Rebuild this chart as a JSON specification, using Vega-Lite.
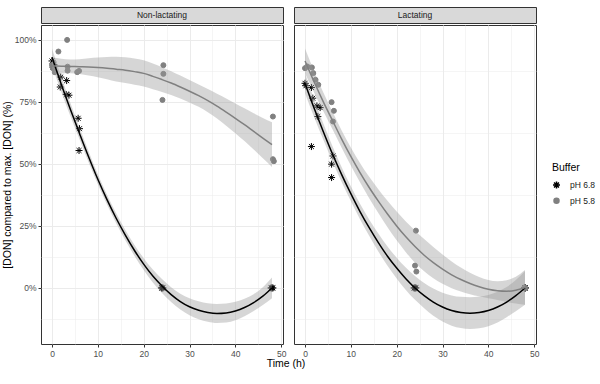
{
  "$schema": "https://vega.github.io/schema/vega-lite/v6.json",
  "padding": {"left": 2, "top": 6, "right": 5, "bottom": 5},
  "background": "white",
  "config": {
    "font": "Liberation Sans",
    "view": {"stroke": "#333333", "strokeWidth": 1},
    "axis": {"gridColor": "#EBEBEB", "tickColor": "#333333", "tickSize": 3, "domain": false, "labelColor": "#4D4D4D", "labelFontSize": 8.5, "labelPadding": 2, "titleFontSize": 10.5, "titleFontWeight": "normal", "titleColor": "#000000", "labelFlush": false, "labelOverlap": false}
  },
  "datasets": {
    "pts": [
      {"panel": "Non-lactating", "buffer": "pH 6.8", "time": 0, "don": 91.5},
      {"panel": "Non-lactating", "buffer": "pH 6.8", "time": 0.4, "don": 90},
      {"panel": "Non-lactating", "buffer": "pH 6.8", "time": 0.2, "don": 89},
      {"panel": "Non-lactating", "buffer": "pH 6.8", "time": 1.9, "don": 85},
      {"panel": "Non-lactating", "buffer": "pH 6.8", "time": 1.8, "don": 81},
      {"panel": "Non-lactating", "buffer": "pH 6.8", "time": 3.2, "don": 83.6},
      {"panel": "Non-lactating", "buffer": "pH 6.8", "time": 3.1, "don": 78},
      {"panel": "Non-lactating", "buffer": "pH 6.8", "time": 3.7, "don": 77.7},
      {"panel": "Non-lactating", "buffer": "pH 6.8", "time": 5.7, "don": 68.4},
      {"panel": "Non-lactating", "buffer": "pH 6.8", "time": 6, "don": 64.2},
      {"panel": "Non-lactating", "buffer": "pH 6.8", "time": 5.9, "don": 55.4},
      {"panel": "Non-lactating", "buffer": "pH 6.8", "time": 24, "don": 0},
      {"panel": "Non-lactating", "buffer": "pH 6.8", "time": 24.2, "don": 0},
      {"panel": "Non-lactating", "buffer": "pH 6.8", "time": 23.9, "don": 0},
      {"panel": "Non-lactating", "buffer": "pH 6.8", "time": 48, "don": 0},
      {"panel": "Non-lactating", "buffer": "pH 6.8", "time": 47.8, "don": 0},
      {"panel": "Non-lactating", "buffer": "pH 6.8", "time": 48.2, "don": 0},
      {"panel": "Non-lactating", "buffer": "pH 5.8", "time": 0, "don": 89.9},
      {"panel": "Non-lactating", "buffer": "pH 5.8", "time": 0.2, "don": 88.6},
      {"panel": "Non-lactating", "buffer": "pH 5.8", "time": 0.6, "don": 87},
      {"panel": "Non-lactating", "buffer": "pH 5.8", "time": 1.4, "don": 95.3},
      {"panel": "Non-lactating", "buffer": "pH 5.8", "time": 3.3, "don": 100},
      {"panel": "Non-lactating", "buffer": "pH 5.8", "time": 3.4, "don": 89.2},
      {"panel": "Non-lactating", "buffer": "pH 5.8", "time": 3.4, "don": 87.6},
      {"panel": "Non-lactating", "buffer": "pH 5.8", "time": 5.5, "don": 87},
      {"panel": "Non-lactating", "buffer": "pH 5.8", "time": 5.9, "don": 87.5},
      {"panel": "Non-lactating", "buffer": "pH 5.8", "time": 24.3, "don": 89.8},
      {"panel": "Non-lactating", "buffer": "pH 5.8", "time": 24.3, "don": 86.3},
      {"panel": "Non-lactating", "buffer": "pH 5.8", "time": 24.1, "don": 75.8},
      {"panel": "Non-lactating", "buffer": "pH 5.8", "time": 48.2, "don": 69.1},
      {"panel": "Non-lactating", "buffer": "pH 5.8", "time": 48.2, "don": 51.9},
      {"panel": "Non-lactating", "buffer": "pH 5.8", "time": 48.4, "don": 51.1},
      {"panel": "Lactating", "buffer": "pH 6.8", "time": 0, "don": 82.5},
      {"panel": "Lactating", "buffer": "pH 6.8", "time": 0.2, "don": 81.5},
      {"panel": "Lactating", "buffer": "pH 6.8", "time": 1.4, "don": 80.8},
      {"panel": "Lactating", "buffer": "pH 6.8", "time": 1.7, "don": 76.5},
      {"panel": "Lactating", "buffer": "pH 6.8", "time": 1.4, "don": 57},
      {"panel": "Lactating", "buffer": "pH 6.8", "time": 2.6, "don": 73.4},
      {"panel": "Lactating", "buffer": "pH 6.8", "time": 3.3, "don": 72.7},
      {"panel": "Lactating", "buffer": "pH 6.8", "time": 2.8, "don": 69.1},
      {"panel": "Lactating", "buffer": "pH 6.8", "time": 6.1, "don": 53.2},
      {"panel": "Lactating", "buffer": "pH 6.8", "time": 5.8, "don": 49.9},
      {"panel": "Lactating", "buffer": "pH 6.8", "time": 5.8, "don": 44.5},
      {"panel": "Lactating", "buffer": "pH 6.8", "time": 23.8, "don": 0},
      {"panel": "Lactating", "buffer": "pH 6.8", "time": 24, "don": 0},
      {"panel": "Lactating", "buffer": "pH 6.8", "time": 24.2, "don": 0},
      {"panel": "Lactating", "buffer": "pH 6.8", "time": 47.9, "don": 0},
      {"panel": "Lactating", "buffer": "pH 6.8", "time": 48, "don": 0},
      {"panel": "Lactating", "buffer": "pH 6.8", "time": 48.1, "don": 0},
      {"panel": "Lactating", "buffer": "pH 5.8", "time": 0, "don": 88.6},
      {"panel": "Lactating", "buffer": "pH 5.8", "time": 0.5, "don": 89.3},
      {"panel": "Lactating", "buffer": "pH 5.8", "time": 1.5, "don": 88.9},
      {"panel": "Lactating", "buffer": "pH 5.8", "time": 1.8, "don": 86.6},
      {"panel": "Lactating", "buffer": "pH 5.8", "time": 2.3, "don": 83.9},
      {"panel": "Lactating", "buffer": "pH 5.8", "time": 2.9, "don": 81.9},
      {"panel": "Lactating", "buffer": "pH 5.8", "time": 5.8, "don": 74.9},
      {"panel": "Lactating", "buffer": "pH 5.8", "time": 6.3, "don": 71.4},
      {"panel": "Lactating", "buffer": "pH 5.8", "time": 6.1, "don": 67.1},
      {"panel": "Lactating", "buffer": "pH 5.8", "time": 24.2, "don": 23.1},
      {"panel": "Lactating", "buffer": "pH 5.8", "time": 24, "don": 9},
      {"panel": "Lactating", "buffer": "pH 5.8", "time": 24.3, "don": 6.6},
      {"panel": "Lactating", "buffer": "pH 5.8", "time": 48, "don": 0},
      {"panel": "Lactating", "buffer": "pH 5.8", "time": 47.9, "don": 0.2}
    ],
    "fits": [
      {"panel": "Non-lactating", "buffer": "pH 6.8", "time": 0, "fit": 93, "lo": 89.5, "hi": 96.5},
      {"panel": "Non-lactating", "buffer": "pH 6.8", "time": 2, "fit": 82.2, "lo": 79.2, "hi": 85.2},
      {"panel": "Non-lactating", "buffer": "pH 6.8", "time": 4, "fit": 72, "lo": 69.3, "hi": 74.7},
      {"panel": "Non-lactating", "buffer": "pH 6.8", "time": 6, "fit": 62.3, "lo": 59.9, "hi": 64.7},
      {"panel": "Non-lactating", "buffer": "pH 6.8", "time": 8, "fit": 52.8, "lo": 50.6, "hi": 55},
      {"panel": "Non-lactating", "buffer": "pH 6.8", "time": 10, "fit": 43.8, "lo": 41.8, "hi": 45.8},
      {"panel": "Non-lactating", "buffer": "pH 6.8", "time": 12, "fit": 35.6, "lo": 33.6, "hi": 37.6},
      {"panel": "Non-lactating", "buffer": "pH 6.8", "time": 14, "fit": 28.1, "lo": 26.1, "hi": 30.1},
      {"panel": "Non-lactating", "buffer": "pH 6.8", "time": 16, "fit": 21.3, "lo": 19.2, "hi": 23.4},
      {"panel": "Non-lactating", "buffer": "pH 6.8", "time": 18, "fit": 15.1, "lo": 12.9, "hi": 17.3},
      {"panel": "Non-lactating", "buffer": "pH 6.8", "time": 20, "fit": 9.6, "lo": 7.2, "hi": 12},
      {"panel": "Non-lactating", "buffer": "pH 6.8", "time": 22, "fit": 4.8, "lo": 2.2, "hi": 7.4},
      {"panel": "Non-lactating", "buffer": "pH 6.8", "time": 24, "fit": 0.8, "lo": -2, "hi": 3.6},
      {"panel": "Non-lactating", "buffer": "pH 6.8", "time": 26, "fit": -2.7, "lo": -5.7, "hi": 0.3},
      {"panel": "Non-lactating", "buffer": "pH 6.8", "time": 28, "fit": -5.5, "lo": -8.7, "hi": -2.3},
      {"panel": "Non-lactating", "buffer": "pH 6.8", "time": 30, "fit": -7.6, "lo": -11, "hi": -4.2},
      {"panel": "Non-lactating", "buffer": "pH 6.8", "time": 32, "fit": -9, "lo": -12.6, "hi": -5.4},
      {"panel": "Non-lactating", "buffer": "pH 6.8", "time": 34, "fit": -9.9, "lo": -13.6, "hi": -6.2},
      {"panel": "Non-lactating", "buffer": "pH 6.8", "time": 36, "fit": -10.3, "lo": -14.1, "hi": -6.5},
      {"panel": "Non-lactating", "buffer": "pH 6.8", "time": 38, "fit": -10.1, "lo": -13.9, "hi": -6.3},
      {"panel": "Non-lactating", "buffer": "pH 6.8", "time": 40, "fit": -9.3, "lo": -13, "hi": -5.6},
      {"panel": "Non-lactating", "buffer": "pH 6.8", "time": 42, "fit": -7.9, "lo": -11.4, "hi": -4.4},
      {"panel": "Non-lactating", "buffer": "pH 6.8", "time": 44, "fit": -5.9, "lo": -9.3, "hi": -2.5},
      {"panel": "Non-lactating", "buffer": "pH 6.8", "time": 46, "fit": -3.3, "lo": -6.9, "hi": 0.3},
      {"panel": "Non-lactating", "buffer": "pH 6.8", "time": 48, "fit": 0, "lo": -4.2, "hi": 4.2},
      {"panel": "Non-lactating", "buffer": "pH 5.8", "time": 0, "fit": 89.5, "lo": 86, "hi": 93},
      {"panel": "Non-lactating", "buffer": "pH 5.8", "time": 2, "fit": 89.4, "lo": 86.4, "hi": 92.4},
      {"panel": "Non-lactating", "buffer": "pH 5.8", "time": 4, "fit": 89.3, "lo": 86.5, "hi": 92.1},
      {"panel": "Non-lactating", "buffer": "pH 5.8", "time": 6, "fit": 89.2, "lo": 86.2, "hi": 92.2},
      {"panel": "Non-lactating", "buffer": "pH 5.8", "time": 8, "fit": 89.1, "lo": 85.6, "hi": 92.6},
      {"panel": "Non-lactating", "buffer": "pH 5.8", "time": 10, "fit": 88.9, "lo": 84.9, "hi": 92.9},
      {"panel": "Non-lactating", "buffer": "pH 5.8", "time": 12, "fit": 88.6, "lo": 84.1, "hi": 93.1},
      {"panel": "Non-lactating", "buffer": "pH 5.8", "time": 14, "fit": 88.2, "lo": 83.2, "hi": 93.2},
      {"panel": "Non-lactating", "buffer": "pH 5.8", "time": 16, "fit": 87.8, "lo": 82.6, "hi": 93},
      {"panel": "Non-lactating", "buffer": "pH 5.8", "time": 18, "fit": 87.2, "lo": 81.9, "hi": 92.5},
      {"panel": "Non-lactating", "buffer": "pH 5.8", "time": 20, "fit": 86.5, "lo": 81.2, "hi": 91.8},
      {"panel": "Non-lactating", "buffer": "pH 5.8", "time": 22, "fit": 85.3, "lo": 80.1, "hi": 90.5},
      {"panel": "Non-lactating", "buffer": "pH 5.8", "time": 24, "fit": 84, "lo": 79, "hi": 89},
      {"panel": "Non-lactating", "buffer": "pH 5.8", "time": 26, "fit": 82.6, "lo": 77.8, "hi": 87.4},
      {"panel": "Non-lactating", "buffer": "pH 5.8", "time": 28, "fit": 81, "lo": 76.4, "hi": 85.6},
      {"panel": "Non-lactating", "buffer": "pH 5.8", "time": 30, "fit": 79.3, "lo": 74.8, "hi": 83.8},
      {"panel": "Non-lactating", "buffer": "pH 5.8", "time": 32, "fit": 77.5, "lo": 73, "hi": 82},
      {"panel": "Non-lactating", "buffer": "pH 5.8", "time": 34, "fit": 75.5, "lo": 70.8, "hi": 80.2},
      {"panel": "Non-lactating", "buffer": "pH 5.8", "time": 36, "fit": 73.3, "lo": 68.3, "hi": 78.3},
      {"panel": "Non-lactating", "buffer": "pH 5.8", "time": 38, "fit": 70.9, "lo": 65.4, "hi": 76.4},
      {"panel": "Non-lactating", "buffer": "pH 5.8", "time": 40, "fit": 68.4, "lo": 62.4, "hi": 74.4},
      {"panel": "Non-lactating", "buffer": "pH 5.8", "time": 42, "fit": 65.8, "lo": 59.2, "hi": 72.4},
      {"panel": "Non-lactating", "buffer": "pH 5.8", "time": 44, "fit": 63.1, "lo": 55.8, "hi": 70.4},
      {"panel": "Non-lactating", "buffer": "pH 5.8", "time": 46, "fit": 60.4, "lo": 52.3, "hi": 68.5},
      {"panel": "Non-lactating", "buffer": "pH 5.8", "time": 48, "fit": 57.8, "lo": 48.8, "hi": 66.8},
      {"panel": "Lactating", "buffer": "pH 6.8", "time": 0, "fit": 82.5, "lo": 78.5, "hi": 86.5},
      {"panel": "Lactating", "buffer": "pH 6.8", "time": 2, "fit": 72.4, "lo": 68.8, "hi": 76},
      {"panel": "Lactating", "buffer": "pH 6.8", "time": 4, "fit": 63, "lo": 59.7, "hi": 66.3},
      {"panel": "Lactating", "buffer": "pH 6.8", "time": 6, "fit": 54, "lo": 50.9, "hi": 57.1},
      {"panel": "Lactating", "buffer": "pH 6.8", "time": 8, "fit": 45.7, "lo": 42.7, "hi": 48.7},
      {"panel": "Lactating", "buffer": "pH 6.8", "time": 10, "fit": 38, "lo": 35, "hi": 41},
      {"panel": "Lactating", "buffer": "pH 6.8", "time": 12, "fit": 30.8, "lo": 27.7, "hi": 33.9},
      {"panel": "Lactating", "buffer": "pH 6.8", "time": 14, "fit": 24.3, "lo": 21, "hi": 27.6},
      {"panel": "Lactating", "buffer": "pH 6.8", "time": 16, "fit": 18.3, "lo": 14.7, "hi": 21.9},
      {"panel": "Lactating", "buffer": "pH 6.8", "time": 18, "fit": 12.8, "lo": 8.9, "hi": 16.7},
      {"panel": "Lactating", "buffer": "pH 6.8", "time": 20, "fit": 8, "lo": 3.8, "hi": 12.2},
      {"panel": "Lactating", "buffer": "pH 6.8", "time": 22, "fit": 3.7, "lo": -0.8, "hi": 8.2},
      {"panel": "Lactating", "buffer": "pH 6.8", "time": 24, "fit": 0, "lo": -4.8, "hi": 4.8},
      {"panel": "Lactating", "buffer": "pH 6.8", "time": 26, "fit": -3.1, "lo": -8.2, "hi": 2},
      {"panel": "Lactating", "buffer": "pH 6.8", "time": 28, "fit": -5.7, "lo": -11.2, "hi": -0.2},
      {"panel": "Lactating", "buffer": "pH 6.8", "time": 30, "fit": -7.7, "lo": -13.5, "hi": -1.9},
      {"panel": "Lactating", "buffer": "pH 6.8", "time": 32, "fit": -9.1, "lo": -15.2, "hi": -3},
      {"panel": "Lactating", "buffer": "pH 6.8", "time": 34, "fit": -9.9, "lo": -16.2, "hi": -3.6},
      {"panel": "Lactating", "buffer": "pH 6.8", "time": 36, "fit": -10.2, "lo": -16.6, "hi": -3.8},
      {"panel": "Lactating", "buffer": "pH 6.8", "time": 38, "fit": -9.9, "lo": -16.3, "hi": -3.5},
      {"panel": "Lactating", "buffer": "pH 6.8", "time": 40, "fit": -9.1, "lo": -15.4, "hi": -2.8},
      {"panel": "Lactating", "buffer": "pH 6.8", "time": 42, "fit": -7.7, "lo": -13.9, "hi": -1.5},
      {"panel": "Lactating", "buffer": "pH 6.8", "time": 44, "fit": -5.7, "lo": -11.8, "hi": 0.4},
      {"panel": "Lactating", "buffer": "pH 6.8", "time": 46, "fit": -3.1, "lo": -9.4, "hi": 3.2},
      {"panel": "Lactating", "buffer": "pH 6.8", "time": 48, "fit": 0, "lo": -6.8, "hi": 6.8},
      {"panel": "Lactating", "buffer": "pH 5.8", "time": 0, "fit": 91.5, "lo": 86.5, "hi": 96.5},
      {"panel": "Lactating", "buffer": "pH 5.8", "time": 2, "fit": 83, "lo": 78.7, "hi": 87.3},
      {"panel": "Lactating", "buffer": "pH 5.8", "time": 4, "fit": 75, "lo": 71.2, "hi": 78.8},
      {"panel": "Lactating", "buffer": "pH 5.8", "time": 6, "fit": 67.5, "lo": 64, "hi": 71},
      {"panel": "Lactating", "buffer": "pH 5.8", "time": 8, "fit": 60, "lo": 56.5, "hi": 63.5},
      {"panel": "Lactating", "buffer": "pH 5.8", "time": 10, "fit": 53, "lo": 49.4, "hi": 56.6},
      {"panel": "Lactating", "buffer": "pH 5.8", "time": 12, "fit": 46.5, "lo": 42.6, "hi": 50.4},
      {"panel": "Lactating", "buffer": "pH 5.8", "time": 14, "fit": 40.5, "lo": 36.2, "hi": 44.8},
      {"panel": "Lactating", "buffer": "pH 5.8", "time": 16, "fit": 35, "lo": 30.2, "hi": 39.8},
      {"panel": "Lactating", "buffer": "pH 5.8", "time": 18, "fit": 29.8, "lo": 24.5, "hi": 35.1},
      {"panel": "Lactating", "buffer": "pH 5.8", "time": 20, "fit": 25, "lo": 19.2, "hi": 30.8},
      {"panel": "Lactating", "buffer": "pH 5.8", "time": 22, "fit": 20.6, "lo": 14.4, "hi": 26.8},
      {"panel": "Lactating", "buffer": "pH 5.8", "time": 24, "fit": 16.7, "lo": 10.2, "hi": 23.2},
      {"panel": "Lactating", "buffer": "pH 5.8", "time": 26, "fit": 13.2, "lo": 6.7, "hi": 19.7},
      {"panel": "Lactating", "buffer": "pH 5.8", "time": 28, "fit": 10.2, "lo": 3.9, "hi": 16.5},
      {"panel": "Lactating", "buffer": "pH 5.8", "time": 30, "fit": 7.6, "lo": 1.7, "hi": 13.5},
      {"panel": "Lactating", "buffer": "pH 5.8", "time": 32, "fit": 5.3, "lo": -0.1, "hi": 10.7},
      {"panel": "Lactating", "buffer": "pH 5.8", "time": 34, "fit": 3.4, "lo": -1.4, "hi": 8.2},
      {"panel": "Lactating", "buffer": "pH 5.8", "time": 36, "fit": 1.8, "lo": -2.5, "hi": 6.1},
      {"panel": "Lactating", "buffer": "pH 5.8", "time": 38, "fit": 0.5, "lo": -3.4, "hi": 4.4},
      {"panel": "Lactating", "buffer": "pH 5.8", "time": 40, "fit": -0.5, "lo": -4.2, "hi": 3.2},
      {"panel": "Lactating", "buffer": "pH 5.8", "time": 42, "fit": -1.1, "lo": -4.9, "hi": 2.7},
      {"panel": "Lactating", "buffer": "pH 5.8", "time": 44, "fit": -1.3, "lo": -5.7, "hi": 3.1},
      {"panel": "Lactating", "buffer": "pH 5.8", "time": 46, "fit": -0.9, "lo": -6.3, "hi": 4.5},
      {"panel": "Lactating", "buffer": "pH 5.8", "time": 48, "fit": 0.2, "lo": -6.8, "hi": 7.2}
    ]
  },
  "vconcat": [
    {
      "hconcat": [
        {
          "vconcat": [
            {
              "width": 242, "height": 16,
              "data": {"values": [{"strip": "Non-lactating"}]},
              "view": {"fill": "#D9D9D9", "stroke": "#333333"},
              "mark": {"type": "text", "fontSize": 8.5, "color": "#1A1A1A"},
              "encoding": {"text": {"field": "strip", "type": "nominal"}}
            },
            {
              "width": 242, "height": 319,
              "encoding": {
                "x": {"field": "time", "type": "quantitative", "scale": {"domain": [-2.4, 50.4], "nice": false, "zero": false},
                  "axis": {"values": [0, 5, 10, 15, 20, 25, 30, 35, 40, 45, 50], "labelExpr": "datum.value % 10 === 0 ? datum.label : ''", "grid": true,
                    "gridWidth": {"condition": {"test": "datum.value % 10 !== 0", "value": 0.5}, "value": 1},
                    "tickOpacity": {"condition": {"test": "datum.value % 10 !== 0", "value": 0}, "value": 1},
                    "title": null}}
              },
              "layer": [
                {
                  "data": {"name": "pts"},
                  "transform": [{"filter": "datum.panel === 'Non-lactating'"}],
                  "mark": {"type": "point", "filled": true, "opacity": 1, "strokeWidth": 1},
                  "encoding": {
                    "y": {"field": "don", "type": "quantitative", "scale": {"domain": [-22.6, 106], "nice": false, "zero": false},
                      "axis": {"values": [-12.5, 0, 12.5, 25, 37.5, 50, 62.5, 75, 87.5, 100], "labelExpr": "datum.value % 25 === 0 ? (datum.value + '%') : ''", "labels": true, "grid": true,
                        "gridWidth": {"condition": {"test": "datum.value % 25 !== 0", "value": 0.5}, "value": 1},
                        "tickOpacity": {"condition": {"test": "datum.value % 25 !== 0", "value": 0}, "value": 1},
                        "title": "[DON] compared to max. [DON] (%)", "titlePadding": 1.5}},
                    "color": {"field": "buffer", "type": "nominal", "scale": {"domain": ["pH 6.8", "pH 5.8"], "range": ["#000000", "#808080"]}},
                    "stroke": {"field": "buffer", "type": "nominal", "scale": {"domain": ["pH 6.8", "pH 5.8"], "range": ["#000000", "#808080"]}, "legend": null},
                    "shape": {"field": "buffer", "type": "nominal", "scale": {"domain": ["pH 6.8", "pH 5.8"], "range": ["M-1,0L1,0M0,-1L0,1M-0.7,-0.7L0.7,0.7M-0.7,0.7L0.7,-0.7", "circle"]}, "legend": null},
                    "size": {"field": "buffer", "type": "nominal", "scale": {"domain": ["pH 6.8", "pH 5.8"], "range": [49, 25]}, "legend": null}
                  }
                },
                {
                  "data": {"name": "fits"},
                  "transform": [{"filter": "datum.panel === 'Non-lactating'"}],
                  "mark": {"type": "area", "color": "#999999", "opacity": 0.4, "interpolate": "monotone"},
                  "encoding": {
                    "y": {"field": "lo", "type": "quantitative", "scale": {"domain": [-22.6, 106], "nice": false, "zero": false},
                      "axis": {"values": [-12.5, 0, 12.5, 25, 37.5, 50, 62.5, 75, 87.5, 100], "labelExpr": "datum.value % 25 === 0 ? (datum.value + '%') : ''", "labels": true, "grid": true,
                        "gridWidth": {"condition": {"test": "datum.value % 25 !== 0", "value": 0.5}, "value": 1},
                        "tickOpacity": {"condition": {"test": "datum.value % 25 !== 0", "value": 0}, "value": 1},
                        "title": "[DON] compared to max. [DON] (%)", "titlePadding": 1.5}},
                    "y2": {"field": "hi"},
                    "detail": {"field": "buffer", "type": "nominal"}
                  }
                },
                {
                  "data": {"name": "fits"},
                  "transform": [{"filter": "datum.panel === 'Non-lactating'"}],
                  "mark": {"type": "line", "strokeWidth": 1.5, "interpolate": "monotone"},
                  "encoding": {
                    "y": {"field": "fit", "type": "quantitative", "scale": {"domain": [-22.6, 106], "nice": false, "zero": false},
                      "axis": {"values": [-12.5, 0, 12.5, 25, 37.5, 50, 62.5, 75, 87.5, 100], "labelExpr": "datum.value % 25 === 0 ? (datum.value + '%') : ''", "labels": true, "grid": true,
                        "gridWidth": {"condition": {"test": "datum.value % 25 !== 0", "value": 0.5}, "value": 1},
                        "tickOpacity": {"condition": {"test": "datum.value % 25 !== 0", "value": 0}, "value": 1},
                        "title": "[DON] compared to max. [DON] (%)", "titlePadding": 1.5}},
                    "color": {"field": "buffer", "type": "nominal", "scale": {"domain": ["pH 6.8", "pH 5.8"], "range": ["#000000", "#808080"]}}
                  }
                }
              ]
            }
          ],
          "spacing": 0
        },
        {
          "vconcat": [
            {
              "width": 242, "height": 16,
              "data": {"values": [{"strip": "Lactating"}]},
              "view": {"fill": "#D9D9D9", "stroke": "#333333"},
              "mark": {"type": "text", "fontSize": 8.5, "color": "#1A1A1A"},
              "encoding": {"text": {"field": "strip", "type": "nominal"}}
            },
            {
              "width": 242, "height": 319,
              "encoding": {
                "x": {"field": "time", "type": "quantitative", "scale": {"domain": [-2.4, 50.4], "nice": false, "zero": false},
                  "axis": {"values": [0, 5, 10, 15, 20, 25, 30, 35, 40, 45, 50], "labelExpr": "datum.value % 10 === 0 ? datum.label : ''", "grid": true,
                    "gridWidth": {"condition": {"test": "datum.value % 10 !== 0", "value": 0.5}, "value": 1},
                    "tickOpacity": {"condition": {"test": "datum.value % 10 !== 0", "value": 0}, "value": 1},
                    "title": null}}
              },
              "layer": [
                {
                  "data": {"name": "pts"},
                  "transform": [{"filter": "datum.panel === 'Lactating'"}],
                  "mark": {"type": "point", "filled": true, "opacity": 1, "strokeWidth": 1},
                  "encoding": {
                    "y": {"field": "don", "type": "quantitative", "scale": {"domain": [-22.6, 106], "nice": false, "zero": false},
                      "axis": {"values": [-12.5, 0, 12.5, 25, 37.5, 50, 62.5, 75, 87.5, 100], "labelExpr": "''", "tickOpacity": 0, "tickSize": 0, "labelPadding": 0, "grid": true,
                        "gridWidth": {"condition": {"test": "datum.value % 25 !== 0", "value": 0.5}, "value": 1},
                        "title": null}},
                    "color": {"field": "buffer", "type": "nominal", "scale": {"domain": ["pH 6.8", "pH 5.8"], "range": ["#000000", "#808080"]},
                      "legend": {"title": "Buffer", "orient": "none", "legendX": 511, "legendY": 156,
                        "titleFontSize": 10.5, "titleFontWeight": "normal", "titleColor": "#000000", "titlePadding": 7,
                        "labelFontSize": 8.5, "labelColor": "#1A1A1A", "labelOffset": 9, "rowPadding": 3, "symbolSize": 144,
                        "encode": {"symbols": {"update": {
                          "shape": {"signal": "datum.value === 'pH 6.8' ? 'M-1,0L1,0M0,-0.5L0,0.5M-0.35,-0.35L0.35,0.35M-0.35,0.35L0.35,-0.35' : 'M-1,0L1,0M-0.35,0A0.35,0.35,0,1,0,0.35,0A0.35,0.35,0,1,0,-0.35,0Z'"},
                          "stroke": {"signal": "datum.value === 'pH 6.8' ? '#000000' : '#808080'"},
                          "fill": {"signal": "datum.value === 'pH 6.8' ? 'transparent' : '#808080'"},
                          "strokeWidth": {"value": 1.2},
                          "opacity": {"value": 1}
                        }}}}},
                    "stroke": {"field": "buffer", "type": "nominal", "scale": {"domain": ["pH 6.8", "pH 5.8"], "range": ["#000000", "#808080"]}, "legend": null},
                    "shape": {"field": "buffer", "type": "nominal", "scale": {"domain": ["pH 6.8", "pH 5.8"], "range": ["M-1,0L1,0M0,-1L0,1M-0.7,-0.7L0.7,0.7M-0.7,0.7L0.7,-0.7", "circle"]}, "legend": null},
                    "size": {"field": "buffer", "type": "nominal", "scale": {"domain": ["pH 6.8", "pH 5.8"], "range": [49, 25]}, "legend": null}
                  }
                },
                {
                  "data": {"name": "fits"},
                  "transform": [{"filter": "datum.panel === 'Lactating'"}],
                  "mark": {"type": "area", "color": "#999999", "opacity": 0.4, "interpolate": "monotone"},
                  "encoding": {
                    "y": {"field": "lo", "type": "quantitative", "scale": {"domain": [-22.6, 106], "nice": false, "zero": false}},
                    "y2": {"field": "hi"},
                    "detail": {"field": "buffer", "type": "nominal"}
                  }
                },
                {
                  "data": {"name": "fits"},
                  "transform": [{"filter": "datum.panel === 'Lactating'"}],
                  "mark": {"type": "line", "strokeWidth": 1.5, "interpolate": "monotone"},
                  "encoding": {
                    "y": {"field": "fit", "type": "quantitative", "scale": {"domain": [-22.6, 106], "nice": false, "zero": false}},
                    "color": {"field": "buffer", "type": "nominal", "scale": {"domain": ["pH 6.8", "pH 5.8"], "range": ["#000000", "#808080"]}}
                  }
                }
              ]
            }
          ],
          "spacing": 0
        }
      ],
      "spacing": 6
    },
    {
      "width": 490, "height": 12,
      "view": {"stroke": null},
      "data": {"values": [{"label": "Time (h)"}]},
      "mark": {"type": "text", "fontSize": 10.5, "color": "#000000"},
      "encoding": {"text": {"field": "label", "type": "nominal"}}
    }
  ],
  "spacing": 0
}
